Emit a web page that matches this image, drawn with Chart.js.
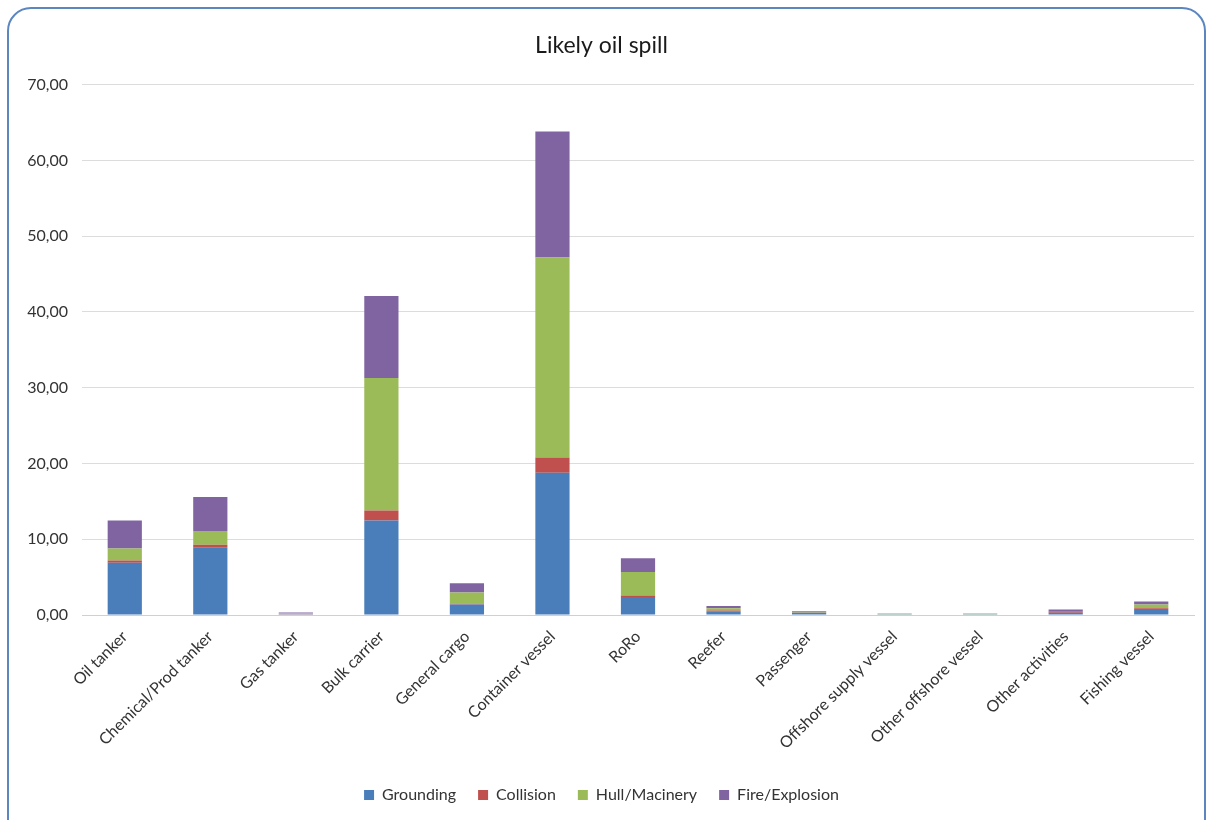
<!DOCTYPE html>
<html><head><meta charset="utf-8">
<script src="https://cdn.jsdelivr.net/npm/chart.js@4"></script>
<style>
html,body{margin:0;padding:0;background:#fff;overflow:hidden;}
#frame{position:absolute;left:7px;top:7px;width:1199px;height:840px;border:2px solid #5b86c0;border-radius:24px;box-sizing:border-box;overflow:hidden;background:#fff;}
#wrap{position:absolute;left:0;top:0;width:1195px;height:810px;}
</style></head>
<body>
<div id="frame"><div id="wrap"><canvas id="c"></canvas></div></div>
<script>
const categories = ["Oil tanker","Chemical/Prod tanker","Gas tanker","Bulk carrier","General cargo","Container vessel","RoRo","Reefer","Passenger","Offshore supply vessel","Other offshore vessel","Other activities","Fishing vessel"];
const grounding   = [6.9, 8.9, 0.1, 12.5, 1.4, 18.8, 2.4, 0.5, 0.3, 0.1, 0.1, 0.3, 0.8];
const collision   = [0.3, 0.4, 0.05, 1.3, 0.1, 2.0, 0.2, 0.1, 0.05, 0.03, 0.03, 0.2, 0.1];
const hullMachinery = [1.6, 1.8, 0.1, 17.5, 1.5, 26.4, 3.1, 0.3, 0.1, 0.05, 0.05, 0.05, 0.5];
const fireExplosion = [3.7, 4.5, 0.1, 10.8, 1.2, 16.6, 1.8, 0.3, 0.1, 0.05, 0.05, 0.2, 0.4];
const yTicks = [0,10,20,30,40,50,60,70];

const FONT = "Lato, 'Open Sans', sans-serif";
new Chart(document.getElementById('c'), {
  type: 'bar',
  data: {
    labels: categories,
    datasets: [
      {label:'Grounding', data: grounding, backgroundColor:'#4a7ebb'},
      {label:'Collision', data: collision, backgroundColor:'#c0504d'},
      {label:'Hull/Macinery', data: hullMachinery, backgroundColor:'#9bbb59'},
      {label:'Fire/Explosion', data: fireExplosion, backgroundColor:'#8064a2'}
    ]
  },
  options: {
    responsive: true, maintainAspectRatio: false, animation: false,
    layout: {padding: {top: 23, right: 10, left: 0, bottom: 6}},
    datasets: {bar: {categoryPercentage: 1, barPercentage: 0.4}},
    plugins: {
      title: {display: true, text: 'Likely oil spill', color: '#1a1a1a', font: {family: FONT, size: 23, weight: 'normal'}, padding: {top: 0, bottom: 25}},
      legend: {position: 'bottom', labels: {boxWidth: 10, boxHeight: 10, color: '#333', font: {family: FONT, size: 16}, padding: 22}},
      tooltip: {enabled: false}
    },
    scales: {
      x: {
        stacked: true,
        grid: {display: false, drawTicks: false},
        border: {color: '#d0d0d0'},
        ticks: {color: '#333', font: {family: FONT, size: 16}, minRotation: 45, maxRotation: 45, padding: 12, autoSkip: false}
      },
      y: {
        stacked: true, min: 0, max: 70,
        afterBuildTicks: (s) => { s.ticks = yTicks.map(v => ({value: v})); },
        afterFit: (s) => { s.width = 73; },
        grid: {color: '#dcdcdc', drawTicks: false},
        border: {display: false},
        ticks: {color: '#333', font: {family: FONT, size: 16}, padding: 14,
          callback: (v) => v.toFixed(2).replace('.', ',')}
      }
    }
  }
});
</script>
</body></html>
